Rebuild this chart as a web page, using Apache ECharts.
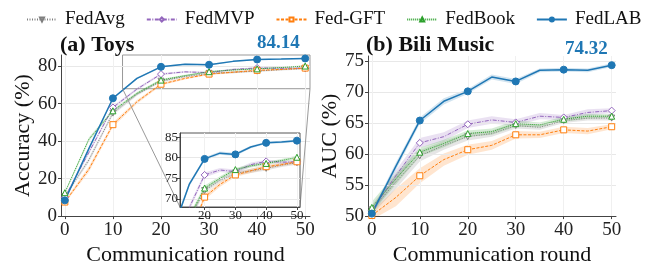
<!DOCTYPE html>
<html>
<head>
<meta charset="utf-8">
<script src="https://cdn.jsdelivr.net/npm/echarts@6/dist/echarts.min.js"></script>
<style>
  html, body { margin: 0; padding: 0; background: #fff; }
  #chart { width: 650px; height: 271px; }
</style>
</head>
<body>
<div id="chart"></div>
<script>
// communication rounds (x)
var rounds = [0, 5, 10, 15, 20, 25, 30, 35, 40, 45, 50];
var methods = ['FedAvg', 'FedMVP', 'Fed-GFT', 'FedBook', 'FedLAB'];

// (a) Toys, accuracy (%)
var toysFedAvg  = [10.5, 30, 55, 65, 72, 74.5, 76.2, 76.8, 77.4, 78.2, 78.8];
var toysFedMVP  = [10, 34, 58, 67.8, 75.8, 77, 76.6, 78.3, 79.1, 78.9, 79.0];
var toysFedGFT  = [7.5, 25, 48.8, 61, 70.4, 73.5, 75.8, 76.8, 77.8, 78.3, 79.0];
var toysFedBook = [12.5, 41, 56.2, 65.5, 72.6, 75, 77.1, 78, 78.6, 79.3, 80.1];
var toysFedLAB  = [8.4, 36, 62.9, 73.5, 79.7, 81.1, 80.8, 82.6, 83.6, 83.8, 84.14];
// half width of the shaded band
var toysBandFedAvg  = [0.8, 1.2, 1.0, 0.8, 0.6, 0.5, 0.5, 0.5, 0.5, 0.5, 0.5];
var toysBandFedMVP  = [0.6, 1.0, 0.8, 0.7, 0.6, 0.5, 0.5, 0.5, 0.4, 0.4, 0.4];
var toysBandFedGFT  = [0.8, 1.5, 1.2, 1.0, 0.7, 0.6, 0.5, 0.5, 0.5, 0.4, 0.4];
var toysBandFedBook = [0.6, 1.0, 0.8, 0.7, 0.6, 0.5, 0.4, 0.4, 0.4, 0.4, 0.4];
var toysBandFedLAB  = [0.5, 0.8, 0.6, 0.5, 0.4, 0.4, 0.4, 0.3, 0.3, 0.3, 0.3];

// (b) Bili Music, AUC (%)
var biliFedAvg  = [51.0, 55.5, 59.7, 61.4, 62.8, 63.3, 64.6, 64.3, 65.4, 65.8, 65.8];
var biliFedMVP  = [50.9, 56.5, 61.8, 62.8, 64.8, 65.5, 65.1, 66.1, 65.9, 66.7, 67.0];
var biliFedGFT  = [50.1, 53, 56.5, 59.1, 60.7, 61.4, 63.1, 63.1, 63.9, 63.7, 64.4];
var biliFedBook = [51.4, 56, 60.3, 61.7, 63.3, 63.6, 64.9, 64.7, 65.6, 66.1, 66.1];
var biliFedLAB  = [50.4, 58, 65.4, 68.5, 70.1, 72.4, 71.7, 73.5, 73.6, 73.5, 74.32];
var biliBandFedAvg  = [0.8, 1.1, 0.9, 0.7, 0.6, 0.5, 0.5, 0.4, 0.4, 0.4, 0.4];
var biliBandFedMVP  = [0.5, 0.9, 0.8, 0.7, 0.6, 0.6, 0.5, 0.5, 0.4, 0.5, 0.4];
var biliBandFedGFT  = [0.7, 1.4, 1.2, 1.0, 0.8, 0.7, 0.6, 0.5, 0.5, 0.5, 0.4];
var biliBandFedBook = [0.9, 0.9, 0.7, 0.6, 0.5, 0.5, 0.5, 0.4, 0.4, 0.4, 0.3];
var biliBandFedLAB  = [0.4, 0.6, 0.5, 0.5, 0.4, 0.4, 0.4, 0.3, 0.3, 0.3, 0.3];

var xTicks = [0, 10, 20, 30, 40, 50];
var toysTicks = [0, 20, 40, 60, 80];
var biliTicks = [50, 55, 60, 65, 70, 75];
var insetXTicks = [20, 30, 40, 50];
var insetYTicks = [70, 75, 80, 85];

var toysValues = [toysFedAvg, toysFedMVP, toysFedGFT, toysFedBook, toysFedLAB];
var toysBands = [toysBandFedAvg, toysBandFedMVP, toysBandFedGFT, toysBandFedBook, toysBandFedLAB];
var biliValues = [biliFedAvg, biliFedMVP, biliFedGFT, biliFedBook, biliFedLAB];
var biliBands = [biliBandFedAvg, biliBandFedMVP, biliBandFedGFT, biliBandFedBook, biliBandFedLAB];

var FONT = 'Liberation Serif';
var colors = ['#7f7f7f', '#9467bd', '#ff7f0e', '#2ca02c', '#1f77b4'];
var dashes = [[1, 1.5], [4, 1.5, 1, 1.5], [3, 1.5], [1, 1], 'solid'];
var symbols = ['triangle', 'diamond', 'rect', 'triangle', 'circle'];
var rotates = [180, 0, 0, 0, 0];
var sizes = [6, 7, 6, 6, 7];

var el = document.getElementById('chart');
var chart = echarts.init(el);

function xAxisFor(gi, min, max, ticks, fs, z, margin) {
    return {
        type: 'value', gridIndex: gi, min: min, max: max, z: z,
        axisLine: { show: true, onZero: false, lineStyle: { color: '#444', width: 1 } },
        axisTick: { show: true, length: 3, customValues: ticks, lineStyle: { color: '#444' } },
        axisLabel: { customValues: ticks, color: '#222', fontSize: fs, fontFamily: FONT, margin: margin },
        splitLine: { show: true, lineStyle: { color: '#f0f0f0', width: 1 } }
    };
}
function yAxisFor(gi, min, max, ticks, fs, z, margin) {
    return {
        type: 'value', gridIndex: gi, min: min, max: max, z: z,
        axisLine: { show: true, onZero: false, lineStyle: { color: '#444', width: 1 } },
        axisTick: { show: true, length: 3, customValues: ticks, lineStyle: { color: '#444' } },
        axisLabel: { customValues: ticks, color: '#222', fontSize: fs, fontFamily: FONT, margin: margin },
        splitLine: { show: true, lineStyle: { color: '#e8e8e8', width: 1 } }
    };
}

function pts(vals) {
    return rounds.map(function (x, i) {
        if (x % 10 === 0) {
            return [x, vals[i]];
        }
        return { value: [x, vals[i]], symbol: 'none' };
    });
}

// shaded band as one polygon, placed through the axes
function bandRender(color) {
    return function (params, api) {
        if (params.dataIndex !== 0) {
            return null;
        }
        var upper = [], lower = [];
        for (var i = 0; i < rounds.length; i++) {
            upper.push(api.coord([api.value(0, i), api.value(2, i)]));
            lower.unshift(api.coord([api.value(0, i), api.value(1, i)]));
        }
        var cs = params.coordSys;
        return {
            type: 'polygon',
            shape: { points: upper.concat(lower) },
            style: { fill: color, opacity: 0.2 },
            clipPath: { type: 'rect', shape: { x: cs.x, y: cs.y, width: cs.width, height: cs.height } },
            silent: true
        };
    };
}

var series = [];
function addPanel(values, bands, gi, z) {
    values.forEach(function (vals, k) {
        series.push({
            name: methods[k] + ' band' + gi, type: 'custom', xAxisIndex: gi, yAxisIndex: gi,
            z: z, silent: true,
            encode: { x: 0, y: [1, 2] },
            data: rounds.map(function (x, i) {
                return [x, vals[i] - bands[k][i], vals[i] + bands[k][i]];
            }),
            renderItem: bandRender(colors[k])
        });
    });
    values.forEach(function (vals, k) {
        var filled = k === 4;
        series.push({
            name: methods[k], type: 'line', xAxisIndex: gi, yAxisIndex: gi,
            data: pts(vals), z: z + 1,
            symbol: symbols[k], symbolSize: sizes[k], symbolRotate: rotates[k],
            showAllSymbol: true,
            lineStyle: { color: colors[k], width: filled ? 1.5 : 1, type: dashes[k] },
            itemStyle: { color: filled ? colors[k] : '#fff', borderColor: colors[k], borderWidth: 1 }
        });
    });
}
addPanel(toysValues, toysBands, 0, 2);
addPanel(biliValues, biliBands, 1, 2);
addPanel(toysValues, toysBands, 2, 11);

// zoom rectangle in the Toys panel
series.push({
    name: 'zoomBox', type: 'line', xAxisIndex: 0, yAxisIndex: 0, data: [], z: 5,
    markArea: {
        silent: true,
        itemStyle: { color: 'rgba(0,0,0,0)', borderColor: '#999', borderWidth: 1 },
        data: [[{ coord: [12, 68] }, { coord: [51, 86] }]]
    }
});

var nameStyle = { fontSize: 22, fontFamily: FONT, color: '#111' };

var option = {
    backgroundColor: '#fff',
    animation: false,
    textStyle: { fontFamily: FONT },
    legend: {
        data: methods, top: 5, left: 21, itemWidth: 30, itemHeight: 5, itemGap: 21,
        textStyle: { fontSize: 19, fontFamily: FONT, color: '#111', padding: [0, 0, 0, 3] }
    },
    title: [
        { text: '(a) Toys', left: 60, top: 34, padding: 0,
          textStyle: { fontSize: 22, fontWeight: 'bold', fontFamily: FONT, color: '#111' } },
        { text: '84.14', left: 257, top: 34, padding: 0,
          textStyle: { fontSize: 19, fontWeight: 'bold', fontFamily: FONT, color: '#1f77b4' } },
        { text: '(b) Bili Music', left: 366, top: 34, padding: 0,
          textStyle: { fontSize: 22, fontWeight: 'bold', fontFamily: FONT, color: '#111' } },
        { text: '74.32', left: 565, top: 40, padding: 0,
          textStyle: { fontSize: 19, fontWeight: 'bold', fontFamily: FONT, color: '#1f77b4' } }
    ],
    grid: [
        { left: 61, top: 55, width: 249, height: 172 },
        { left: 368, top: 56, width: 248, height: 171 },
        { left: 180, top: 133, width: 120, height: 74, z: 10, show: true,
          backgroundColor: '#fff', borderColor: '#555', borderWidth: 1 }
    ],
    xAxis: [
        Object.assign(xAxisFor(0, -0.8, 51, xTicks, 19, 3, 4), {
            name: 'Communication round', nameLocation: 'middle', nameGap: 27, nameTextStyle: nameStyle }),
        Object.assign(xAxisFor(1, -0.8, 50.9, xTicks, 19, 3, 4), {
            name: 'Communication round', nameLocation: 'middle', nameGap: 27, nameTextStyle: nameStyle }),
        xAxisFor(2, 12, 51, insetXTicks, 13, 12, 2)
    ],
    yAxis: [
        Object.assign(yAxisFor(0, 0, 86, toysTicks, 19, 3, 4), {
            name: 'Accuracy (%)', nameLocation: 'middle', nameGap: 24, nameTextStyle: nameStyle }),
        Object.assign(yAxisFor(1, 50, 75.8, biliTicks, 19, 3, 4), {
            name: 'AUC (%)', nameLocation: 'middle', nameGap: 26, nameTextStyle: nameStyle }),
        yAxisFor(2, 68, 86, insetYTicks, 13, 12, 2)
    ],
    series: series
};
chart.setOption(option);

// connector lines from the zoom box to the inset
var a1 = chart.convertToPixel({ gridIndex: 0 }, [12, 68]);
var b1 = chart.convertToPixel({ gridIndex: 2 }, [12, 68]);
var a2 = chart.convertToPixel({ gridIndex: 0 }, [51, 68]);
var b2 = chart.convertToPixel({ gridIndex: 2 }, [51, 68]);
chart.setOption({
    graphic: [
        { type: 'line', z: 4, shape: { x1: a1[0], y1: a1[1], x2: b1[0], y2: b1[1] },
          style: { stroke: '#999', lineWidth: 1 } },
        { type: 'line', z: 4, shape: { x1: a2[0], y1: a2[1], x2: b2[0], y2: b2[1] },
          style: { stroke: '#999', lineWidth: 1 } }
    ]
});
</script>
</body>
</html>
